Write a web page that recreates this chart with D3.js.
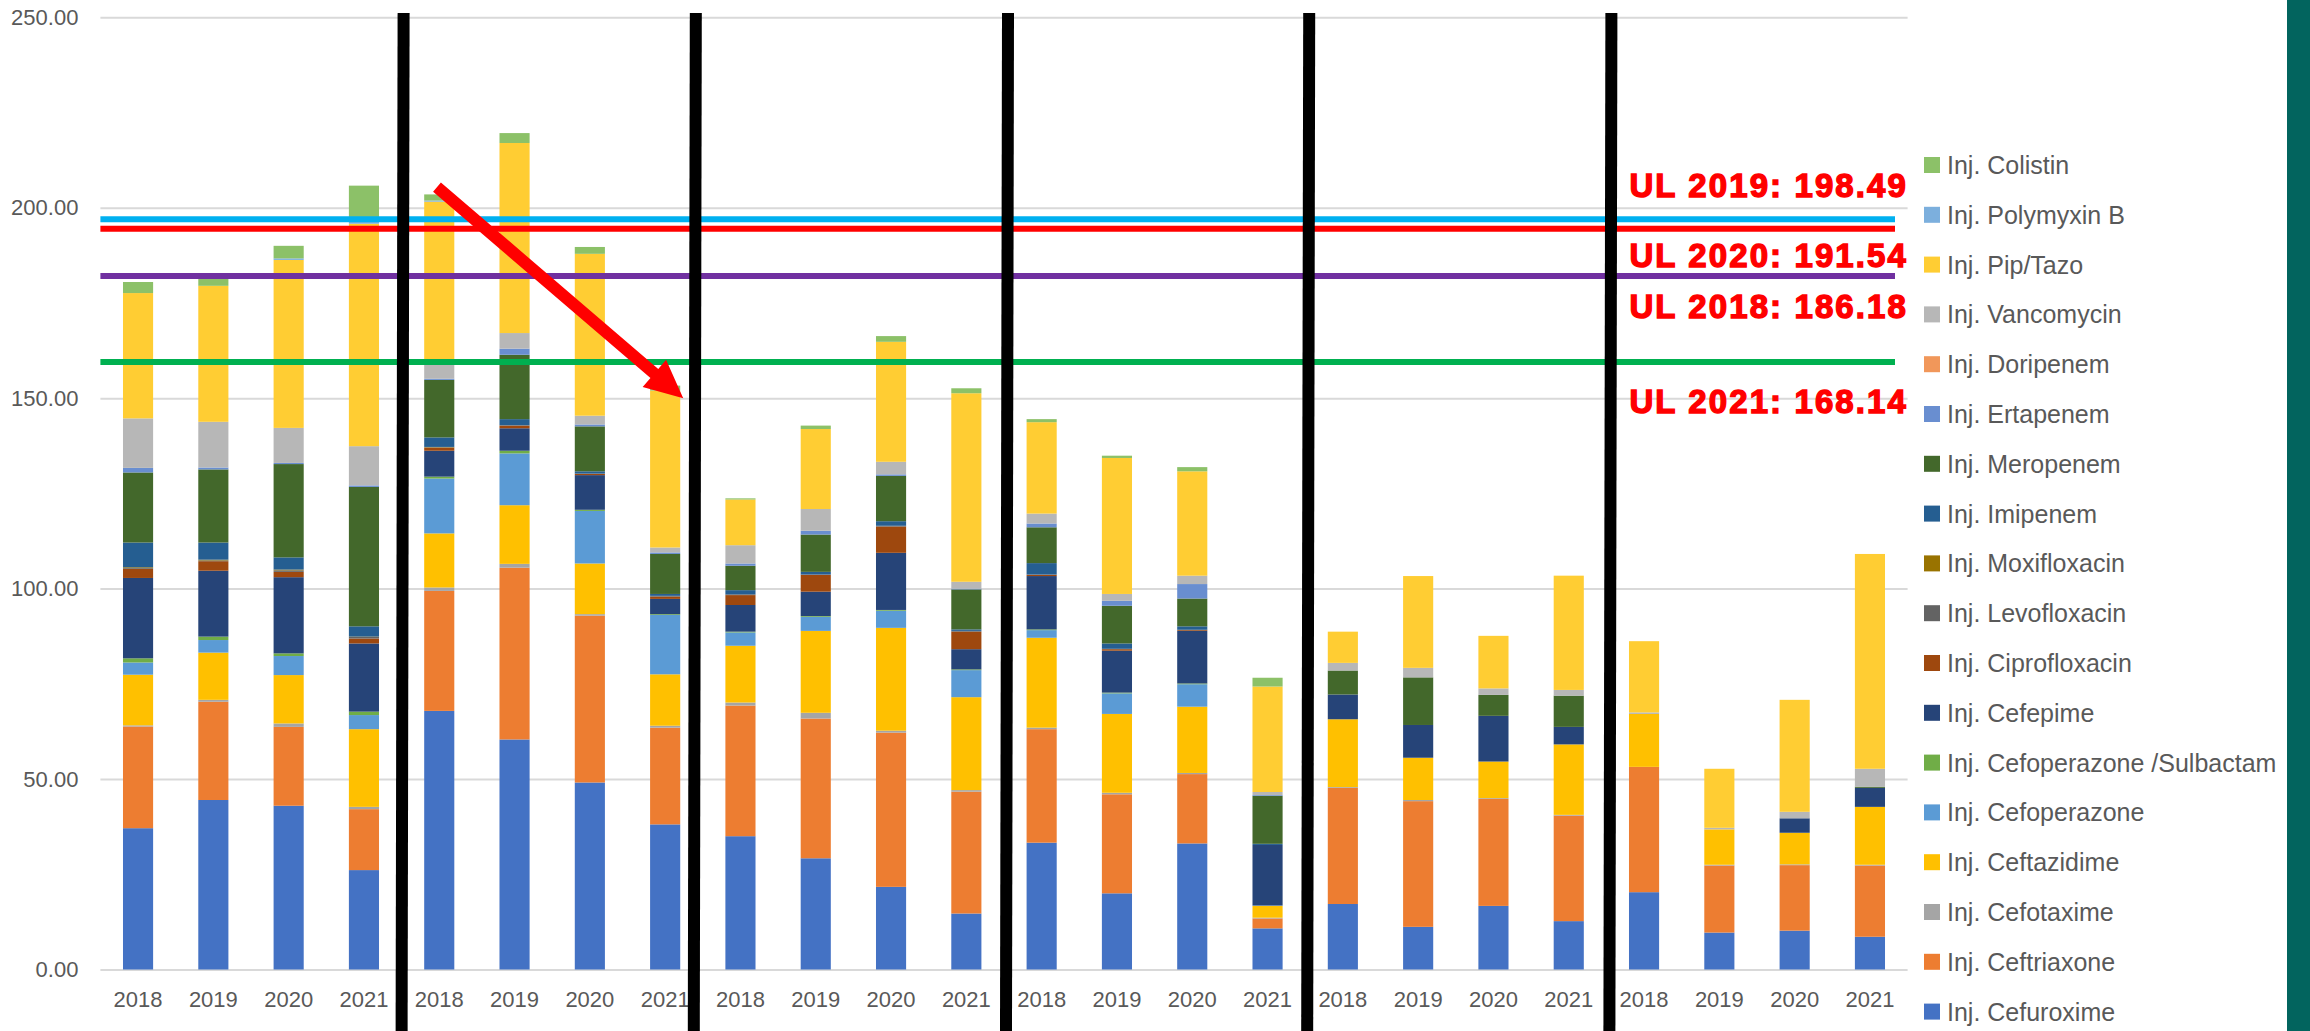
<!DOCTYPE html>
<html>
<head>
<meta charset="utf-8">
<script src="https://cdn.jsdelivr.net/npm/d3@7"></script>
<style>
body { margin: 0; background: #fff; }
text { font-family: "Liberation Sans", Arial, sans-serif; }
</style>
</head>
<body>
<script>
var width = 2310,
    height = 1031;

// six blocks of four years each
var years = ["2018", "2019", "2020", "2021"];
var blocks = 6;
var categories = d3.range(blocks * years.length);

var yTicks = [0, 50, 100, 150, 200, 250];

// series, bottom of stack first
var cefuroxime   = [37.1, 44.5, 43.0, 26.1, 67.9, 60.4, 49.1, 38.1, 35.0, 29.2, 21.7, 14.7, 33.3, 20.0, 33.1, 10.8, 17.2, 11.2, 16.7, 12.7, 20.3, 9.7, 10.2, 8.6];
var ceftriaxone  = [26.7, 25.8, 20.7, 16.0, 31.5, 45.1, 43.8, 25.4, 34.3, 36.7, 40.5, 32.0, 29.8, 26.0, 18.2, 2.6, 30.5, 33.0, 28.1, 27.7, 32.9, 17.6, 17.2, 18.7];
var cefotaxime   = [0.3, 0.5, 0.9, 0.6, 0.9, 1.0, 0.4, 0.5, 0.8, 1.5, 0.5, 0.4, 0.4, 0.4, 0.3, 0.2, 0.2, 0.3, 0.2, 0.2, 0, 0.2, 0.2, 0.2];
var ceftazidime  = [13.3, 12.4, 12.7, 20.4, 14.2, 15.4, 13.3, 13.5, 14.9, 21.5, 27.0, 24.4, 23.6, 20.7, 17.4, 3.1, 17.8, 11.1, 9.6, 18.5, 13.9, 9.3, 8.3, 15.2];
var cefoperazone = [3.2, 3.3, 5.0, 3.7, 14.4, 13.6, 13.8, 15.6, 3.5, 3.7, 4.5, 7.1, 2.0, 5.4, 5.9, 0.1, 0, 0, 0, 0, 0, 0, 0, 0];
var cefoSulb     = [1.1, 0.9, 0.7, 0.9, 0.5, 0.7, 0.3, 0.2, 0.2, 0.2, 0.2, 0.2, 0.2, 0.2, 0.2, 0, 0, 0, 0, 0, 0, 0, 0, 0];
var cefepime     = [21.1, 17.3, 20.0, 17.9, 6.8, 5.9, 9.1, 4.0, 7.0, 6.4, 15.0, 5.3, 14.0, 11.0, 13.8, 15.9, 6.5, 8.6, 12.0, 4.6, 0, 0, 3.8, 5.0];
var ciprofloxacin = [2.4, 2.5, 1.4, 1.3, 0.8, 0.7, 0.3, 0.6, 2.6, 4.4, 6.9, 4.6, 0.3, 0.4, 0.2, 0, 0, 0, 0, 0, 0, 0, 0, 0];
var levofloxacin = [0.2, 0.2, 0.4, 0.4, 0.1, 0.1, 0.1, 0.2, 0.2, 0.1, 0.2, 0.2, 0.1, 0.1, 0.1, 0, 0, 0, 0, 0, 0, 0, 0, 0];
var moxifloxacin = [0.2, 0.2, 0.2, 0.1, 0.1, 0, 0, 0, 0, 0, 0, 0, 0, 0, 0, 0, 0, 0, 0, 0, 0, 0, 0, 0];
var imipenem     = [6.5, 4.5, 3.2, 2.7, 2.5, 1.6, 0.6, 0.5, 1.1, 0.7, 1.2, 0.4, 3.0, 1.4, 0.9, 0.3, 0, 0, 0, 0, 0, 0, 0, 0];
var meropenem    = [18.4, 19.2, 24.5, 36.6, 15.1, 16.9, 11.8, 10.5, 6.4, 9.8, 11.9, 10.5, 9.4, 9.9, 7.3, 12.6, 6.3, 12.5, 5.5, 8.2, 0, 0, 0, 0.3];
var ertapenem    = [1.2, 0.5, 0.3, 0.4, 0.3, 1.6, 0.5, 0.4, 0.6, 1.0, 0.4, 0.2, 1.0, 1.3, 3.8, 0.2, 0, 0, 0, 0, 0, 0, 0, 0];
var doripenem    = [0, 0, 0, 0, 0, 0, 0, 0, 0, 0, 0, 0, 0, 0, 0, 0, 0, 0, 0, 0, 0, 0, 0, 0];
var vancomycin   = [13.0, 12.0, 9.2, 10.3, 3.8, 4.1, 2.3, 1.3, 4.8, 5.7, 3.3, 1.8, 2.6, 1.8, 2.2, 0.8, 2.0, 2.5, 1.7, 1.5, 0.4, 0.4, 1.7, 4.7];
var pipTazo      = [32.9, 35.7, 44.1, 58.4, 42.7, 49.9, 42.5, 41.2, 12.0, 21.0, 31.5, 49.5, 24.0, 35.7, 27.4, 27.7, 8.2, 24.1, 13.8, 30.0, 18.7, 15.5, 29.4, 56.4];
var polymyxinB   = [0, 0, 0.4, 0.5, 0.3, 0, 0, 0, 0, 0, 0, 0, 0, 0, 0, 0, 0, 0, 0, 0, 0, 0, 0, 0];
var colistin     = [2.9, 2.0, 3.3, 9.5, 1.6, 2.6, 1.8, 1.3, 0.3, 0.9, 1.5, 1.3, 0.8, 0.6, 1.1, 2.3, 0, 0, 0, 0, 0, 0, 0, 0];

var seriesNames = ["Inj. Cefuroxime", "Inj. Ceftriaxone", "Inj. Cefotaxime", "Inj. Ceftazidime",
  "Inj. Cefoperazone", "Inj. Cefoperazone /Sulbactam", "Inj. Cefepime", "Inj. Ciprofloxacin",
  "Inj. Levofloxacin", "Inj. Moxifloxacin", "Inj. Imipenem", "Inj. Meropenem", "Inj. Ertapenem",
  "Inj. Doripenem", "Inj. Vancomycin", "Inj. Pip/Tazo", "Inj. Polymyxin B", "Inj. Colistin"];
var seriesValues = [cefuroxime, ceftriaxone, cefotaxime, ceftazidime, cefoperazone, cefoSulb,
  cefepime, ciprofloxacin, levofloxacin, moxifloxacin, imipenem, meropenem, ertapenem,
  doripenem, vancomycin, pipTazo, polymyxinB, colistin];
var seriesColors = ["#4472C4", "#ED7D31", "#A5A5A5", "#FFC000", "#5B9BD5", "#70AD47", "#264478",
  "#9E480E", "#636363", "#997300", "#255E91", "#43682B", "#698ED0", "#F1975A", "#B7B7B7",
  "#FFCD33", "#7CAFDD", "#8CC168"];

// upper limit lines (where they were drawn) and their captions
var ulLevels = [197.0, 194.5, 182.1, 159.5];
var ulColors = ["#00B0F0", "#FF0000", "#7030A0", "#00B050"];
var ulLabels = ["UL 2019: 198.49", "UL 2020: 191.54", "UL 2018: 186.18", "UL 2021: 168.14"];

// arrow in [category position, value]
var arrowFrom = [4.47, 205.4],
    arrowTo = [7.74, 150.0];

var plotLeft = 100.4, plotRight = 1907.6, plotTop = 17.3, plotBottom = 969.5;

var svg = d3.select("body").append("svg")
    .attr("width", width)
    .attr("height", height)
    .style("background", "#fff");

var x = d3.scaleBand()
    .domain(categories)
    .range([plotLeft, plotRight])
    .paddingInner(0.6)
    .paddingOuter(0.3);

var y = d3.scaleLinear()
    .domain([0, 250])
    .range([plotBottom, plotTop]);

// gridlines + y labels
var yAxis = svg.append("g")
    .attr("transform", "translate(" + plotLeft + ",0)")
    .call(d3.axisLeft(y)
      .tickValues(yTicks)
      .tickFormat(d3.format(".2f"))
      .tickSize(-(plotRight - plotLeft))
      .tickPadding(22));
yAxis.select(".domain").remove();
yAxis.selectAll("line").attr("stroke", "#D9D9D9").attr("stroke-width", 2);
yAxis.selectAll("text").attr("fill", "#595959").style("font-size", "22px");

var xAxis = svg.append("g")
    .attr("transform", "translate(0," + plotBottom + ")")
    .call(d3.axisBottom(x)
      .tickFormat(function(d) { return years[d % years.length]; })
      .tickSize(0)
      .tickPadding(22));
xAxis.select(".domain").remove();
xAxis.selectAll("text").attr("fill", "#595959").style("font-size", "22px");

// stacked bars
var table = categories.map(function(c) {
  var row = { cat: c };
  seriesNames.forEach(function(name, s) { row[name] = seriesValues[s][c]; });
  return row;
});

var stacked = d3.stack().keys(seriesNames)(table);

svg.append("g").selectAll("g")
    .data(stacked)
    .enter().append("g")
    .attr("fill", function(d, i) { return seriesColors[i]; })
  .selectAll("rect")
    .data(function(d) { return d; })
    .enter().append("rect")
    .attr("x", function(d) { return x(d.data.cat); })
    .attr("y", function(d) { return y(d[1]); })
    .attr("width", x.bandwidth())
    .attr("height", function(d) { return y(d[0]) - y(d[1]); });

// UL lines
svg.append("g").selectAll("line")
    .data(ulLevels)
    .enter().append("line")
    .attr("x1", plotLeft)
    .attr("x2", 1895)
    .attr("y1", function(d) { return y(d); })
    .attr("y2", function(d) { return y(d); })
    .attr("stroke", function(d, i) { return ulColors[i]; })
    .attr("stroke-width", 6);

// black separators between year blocks (hand drawn, so a little off the boundaries)
var sepNudge = [1, -8, 3, 3, 4];
var seps = d3.range(1, blocks).map(function(b) { return plotLeft + b * years.length * x.step() + sepNudge[b - 1]; });
svg.append("g").selectAll("line")
    .data(seps)
    .enter().append("line")
    .attr("x1", function(d) { return d + 1; })
    .attr("x2", function(d) { return d - 1; })
    .attr("y1", 13)
    .attr("y2", height)
    .attr("stroke", "#000")
    .attr("stroke-width", 12);

// UL captions
var ulBaselines = [197, 267, 318, 413];
svg.append("g").selectAll("text")
    .data(ulLabels)
    .enter().append("text")
    .attr("x", 1908)
    .attr("y", function(d, i) { return ulBaselines[i]; })
    .attr("text-anchor", "end")
    .attr("fill", "#FF0000")
    .attr("stroke", "#FF0000")
    .attr("stroke-width", 1.4)
    .style("font-size", "33px")
    .style("font-weight", "bold")
    .style("letter-spacing", "2.1px")
    .text(function(d) { return d; });

// red arrow
var px = function(p) { return [plotLeft + p[0] * x.step(), y(p[1])]; };
var a = px(arrowFrom), b = px(arrowTo);
var dx = b[0] - a[0], dy = b[1] - a[1], len = Math.sqrt(dx * dx + dy * dy);
var ux = dx / len, uy = dy / len, nx = -uy, ny = ux;
var shaftW = 6, headL = 38, headW = 18;
var base = [b[0] - ux * headL, b[1] - uy * headL];
var arrowPts = [
  [a[0] + nx * shaftW, a[1] + ny * shaftW],
  [base[0] + nx * shaftW, base[1] + ny * shaftW],
  [base[0] + nx * headW, base[1] + ny * headW],
  b,
  [base[0] - nx * headW, base[1] - ny * headW],
  [base[0] - nx * shaftW, base[1] - ny * shaftW],
  [a[0] - nx * shaftW, a[1] - ny * shaftW]
];
svg.append("path")
    .attr("d", d3.line()(arrowPts) + "Z")
    .attr("fill", "#FF0000");

// legend, top of stack first
var legendNames = seriesNames.slice().reverse();
var legendColors = seriesColors.slice().reverse();
var legend = svg.append("g").selectAll("g")
    .data(legendNames)
    .enter().append("g")
    .attr("transform", function(d, i) { return "translate(1924," + (165 + i * 49.8) + ")"; });
legend.append("rect")
    .attr("x", 0)
    .attr("y", -8)
    .attr("width", 16)
    .attr("height", 16)
    .attr("fill", function(d, i) { return legendColors[i]; });
legend.append("text")
    .attr("x", 23)
    .attr("dy", "0.36em")
    .attr("fill", "#595959")
    .style("font-size", "25px")
    .text(function(d) { return d; });

// teal strip on the right edge
svg.append("rect")
    .attr("x", 2287)
    .attr("y", 0)
    .attr("width", width - 2287)
    .attr("height", height)
    .attr("fill", "#02645E");
</script>
</body>
</html>
